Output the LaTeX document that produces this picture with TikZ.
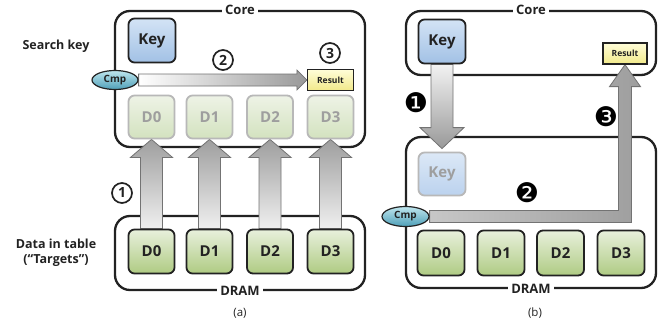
\documentclass[tikz,border=0pt]{standalone}
\usepackage{fontspec}
\setmainfont{Open Sans}
\newfontfamily\symf{DejaVu Sans}
\usetikzlibrary{shapes.geometric,calc}
\pgfdeclarelayer{back}
\pgfdeclarelayer{mid}
\pgfsetlayers{back,mid,main}
\definecolor{gtop}{HTML}{E8F0DC}
\definecolor{gbot}{HTML}{AFCB83}
\definecolor{fgtop}{HTML}{EEF3E6}
\definecolor{fgbot}{HTML}{D3E2BF}
\definecolor{btop}{HTML}{D3E3F5}
\definecolor{bbot}{HTML}{A2C1E5}
\definecolor{fbtop}{HTML}{DCE8F6}
\definecolor{fbbot}{HTML}{BBD2EE}
\definecolor{ytop}{HTML}{FFFDD8}
\definecolor{ybot}{HTML}{F1E98A}
\definecolor{ctop}{HTML}{BFE6EE}
\definecolor{cbot}{HTML}{4E9FB8}
\definecolor{dk}{HTML}{222222}
\tikzset{
  x=1pt, y=-1pt,
  container/.style={draw=dk, line width=2.3pt, rounded corners=15pt, fill=white},
  boxlabel/.style={fill=white, inner sep=3pt, font=\bfseries\fontsize{13}{13}\selectfont, text=dk},
  dbox/.style={draw=dk, line width=1.8pt, rounded corners=6pt, minimum width=46pt, minimum height=44pt,
    top color=gtop, bottom color=gbot, font=\bfseries\fontsize{15}{15}\selectfont, text=dk, inner sep=0pt},
  fdbox/.style={draw=black!28, line width=1.8pt, rounded corners=6pt, minimum width=46pt, minimum height=43pt,
    top color=fgtop, bottom color=fgbot, font=\bfseries\fontsize{15}{15}\selectfont, text=black!38, inner sep=0pt},
  keybox/.style={draw=dk, line width=1.8pt, rounded corners=6pt, minimum width=47pt, minimum height=44pt,
    top color=btop, bottom color=bbot, font=\bfseries\fontsize{15}{15}\selectfont, text=dk, inner sep=0pt},
  fkeybox/.style={draw=black!28, line width=1.8pt, rounded corners=6pt, minimum width=47pt, minimum height=43pt,
    top color=fbtop, bottom color=fbbot, font=\bfseries\fontsize{15}{15}\selectfont, text=black!38, inner sep=0pt},
  resbox/.style={draw=dk, line width=1.2pt, minimum width=46pt, minimum height=21pt,
    top color=ytop, bottom color=ybot, font=\bfseries\fontsize{8.5}{8.5}\selectfont, text=dk, inner sep=0pt},
  cmpnode/.style={ellipse, draw=dk, line width=1.2pt, minimum width=46pt, minimum height=19pt,
    top color=ctop, bottom color=cbot, font=\bfseries\fontsize{10}{10}\selectfont, text=dk, inner sep=0pt},
  sidelabel/.style={font=\bfseries\fontsize{12.5}{15}\selectfont, text=dk, align=center},
  captext/.style={font=\fontsize{11.5}{12}\selectfont, text=dk},
  onum/.style={circle, draw=dk, line width=1.7pt, minimum size=20pt, inner sep=0pt,
    font=\bfseries\fontsize{14}{14}\selectfont, text=dk},
  fnum/.style={font=\symf\fontsize{27}{27}\selectfont, text=black, inner sep=0pt},
  bigarrow/.style={draw=black!55, line width=0.8pt, line join=miter},
}
\begin{document}
\begin{tikzpicture}
\useasboundingbox (0,0) rectangle (662,324);
% ---------- panel (a) ----------
\begin{pgfonlayer}{back}
\node[container, minimum width=250pt, minimum height=136pt] (corea) at (240,79) {};
\node[container, minimum width=250pt, minimum height=74pt] (drama) at (240,253) {};
\end{pgfonlayer}
\node[boxlabel] (corealab) at (corea.north) {Core};
\node[keybox] (keya) at (152,40.5) {Key};
\node[sidelabel] (sk) at (56,46) {Search key};
\node[resbox] (resa) at (330.5,80) {Result};
\node[cmpnode] (cmpa) at (115,80) {Cmp};
\foreach \i/\x in {0/151.5,1/209.5,2/270,3/330.5}{
  \node[fdbox] (fa\i) at (\x,117) {D\i};
}
\node[boxlabel] (dramalab) at (drama.south) {DRAM};
\foreach \i/\x in {0/151.5,1/209.5,2/270,3/330.5}{
  \node[dbox] (da\i) at (\x,251.5) {D\i};
}
\node[sidelabel] (dt) at (56,253) {Data in table\\(“Targets”)};
\node[captext] (capa) at (240,313) {(a)};
\begin{pgfonlayer}{mid}
\foreach \i in {0,1,2,3}{
  \draw[bigarrow, top color=black!38, bottom color=black!6]
    ($(da\i.north)+(-11,0)$) -- ($(fa\i.south)+(-11,18)$) -- ($(fa\i.south)+(-21,18)$) -- (fa\i.south)
    -- ($(fa\i.south)+(21,18)$) -- ($(fa\i.south)+(11,18)$) -- ($(da\i.north)+(11,0)$) -- cycle;
}
\draw[bigarrow, left color=white, right color=black!40]
  ($(cmpa.east)+(0,-6)$) -- ($(resa.west)+(-10,-6)$) -- ($(resa.west)+(-10,-10)$) -- (resa.west)
  -- ($(resa.west)+(-10,10)$) -- ($(resa.west)+(-10,6)$) -- ($(cmpa.east)+(0,6)$) -- cycle;
\end{pgfonlayer}
\node[onum] (n1) at (122,193) {1};
\node[onum] (n2) at (223,60) {2};
\node[onum] (n3) at (330,53) {3};
% ---------- panel (b) ----------
\begin{pgfonlayer}{back}
\node[container, minimum width=250pt, minimum height=64pt] (coreb) at (531,43) {};
\node[container, minimum width=250pt, minimum height=151pt] (dramb) at (531,212.5) {};
\end{pgfonlayer}
\node[boxlabel] (coreblab) at (coreb.north) {Core};
\node[keybox] (keyb) at (442,41.5) {Key};
\node[resbox, minimum width=44pt] (resb) at (625,53.5) {Result};
\node[boxlabel] (dramblab) at (dramb.south) {DRAM};
\node[fkeybox] (fkey) at (442,174) {Key};
\foreach \i/\x in {0/441,1/501,2/560.5,3/621}{
  \node[dbox, minimum width=47pt, minimum height=45pt] (db\i) at (\x,253) {D\i};
}
\node[cmpnode, minimum width=47pt, minimum height=20pt] (cmpb) at (405.5,216.5) {Cmp};
\node[captext] (capb) at (535,313) {(b)};
\coordinate (lc) at (cmpb.east -| resb.south);
\begin{pgfonlayer}{mid}
\draw[bigarrow, top color=black!5, bottom color=black!40]
  ($(keyb.south)+(-11,0)$) -- ($(fkey.north)+(-11,-24)$) -- ($(fkey.north)+(-22,-24)$) -- ($(fkey.north)+(0,-3)$)
  -- ($(fkey.north)+(22,-24)$) -- ($(fkey.north)+(11,-24)$) -- ($(keyb.south)+(11,0)$) -- cycle;
\draw[bigarrow, left color=black!22, right color=black!38]
  ($(cmpb.east)+(0,-6)$) -- ($(lc)+(-6.5,-6)$) -- ($(resb.south)+(-6.5,22)$) -- ($(resb.south)+(-15.5,22)$)
  -- (resb.south) -- ($(resb.south)+(15.5,22)$) -- ($(resb.south)+(6.5,22)$) -- ($(lc)+(6.5,6)$)
  -- ($(cmpb.east)+(0,6)$) -- cycle;
\end{pgfonlayer}
\node[fnum] (m1) at (416,103) {❶};
\node[fnum] (m2) at (527,193) {❷};
\node[fnum] (m3) at (606,117) {❸};
\end{tikzpicture}
\end{document}
